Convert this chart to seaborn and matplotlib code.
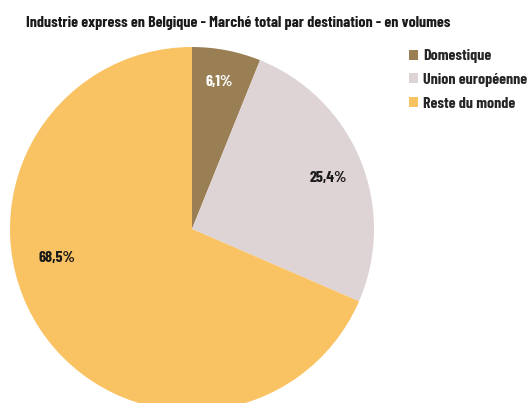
import matplotlib
matplotlib.use("Agg")
import matplotlib.pyplot as plt
import seaborn as sns
from matplotlib.patches import Patch

# data
categories = ["Domestique", "Union européenne", "Reste du monde"]
shares     = [6.1, 25.4, 68.5]
labels_pct = ["6,1%", "25,4%", "68,5%"]
colors     = ["#9A7F55", "#DFD4D5", "#F9C262"]
title      = "Industrie express en Belgique - Marché total par destination - en volumes"

sns.set_theme(style="white")
plt.rcParams["font.family"] = ["Barlow Condensed", "DejaVu Sans"]
plt.rcParams["font.weight"] = "bold"

FS = 11.5

fig = plt.figure(figsize=(5.30, 4.03), dpi=100)
# pie centre at (192, 229) px, radius 182 px -> runs off the bottom edge
ax = fig.add_axes([10 / 530, (403 - 411) / 403, 364 / 530, 364 / 403])

wedges, texts, autotexts = ax.pie(
    shares, colors=colors, startangle=90, counterclock=False,
    autopct="%1.1f%%", pctdistance=0.81,
    wedgeprops=dict(linewidth=0),
    textprops=dict(fontsize=FS, fontweight="bold", color="#1a1a1a"),
)
for t, lab in zip(autotexts, labels_pct):
    t.set_text(lab)
autotexts[0].set_color("white")
autotexts[0].set_position((0.15, 0.81))
autotexts[1].set_position((0.75, 0.28))
# the big slice label sits left of centre in the original
autotexts[2].set_position((-0.74, -0.16))

ax.set_xlim(-1, 1)
ax.set_ylim(-1, 1)
ax.set_aspect("equal")
ax.axis("off")

fig.text(26 / 530, 1 - 27 / 403, title, fontsize=FS, fontweight="bold",
         color="#1a1a1a", va="baseline", ha="left")

handles = [Patch(facecolor=c, edgecolor="none") for c in colors]
fig.legend(handles, categories, loc="upper left",
           bbox_to_anchor=(403 / 530, 1 - 43 / 403), frameon=False,
           handlelength=0.56, handleheight=0.6,
           handletextpad=0.3, labelspacing=0.6, borderaxespad=0,
           prop=dict(weight="bold", size=FS))

fig.savefig("out.png", dpi=100)
